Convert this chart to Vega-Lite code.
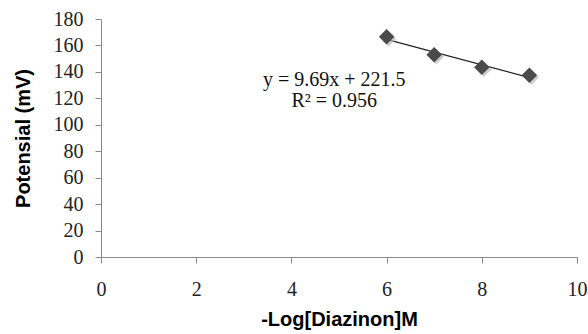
{
  "$schema": "https://vega.github.io/schema/vega-lite/v6.json",
  "width": 476,
  "height": 238,
  "autosize": {"type": "none"},
  "padding": {"left": 101, "top": 19, "right": 11, "bottom": 77},
  "background": "white",
  "config": {"view": {"stroke": null}, "axis": {"labelOverlap": false, "labelBound": false, "labelFlush": false}},
  "datasets": {
    "pts": [
      {"x": 6, "y": 166.5},
      {"x": 7, "y": 153},
      {"x": 8, "y": 143.5},
      {"x": 9, "y": 137.5}
    ],
    "ann": [
      {"x": 4.9, "y": 133.6, "label": "y = 9.69x + 221.5"},
      {"x": 4.9, "y": 118.2, "label": "R² = 0.956"}
    ]
  },
  "encoding": {
    "x": {"field": "x", "type": "quantitative", "scale": {"domain": [0, 10], "nice": false},
      "axis": {"title": "-Log[Diazinon]M", "values": [0, 2, 4, 6, 8, 10], "grid": false, "labelOverlap": false,
        "domainColor": "#888", "tickColor": "#888", "tickSize": 6,
        "labelFont": "Liberation Serif", "labelFontSize": 20, "labelColor": "#222", "labelPadding": 16,
        "titleFont": "Liberation Sans", "titleFontSize": 20, "titleFontWeight": "bold", "titleColor": "#000", "titlePadding": 10}},
    "y": {"field": "y", "type": "quantitative", "scale": {"domain": [0, 180], "nice": false},
      "axis": {"title": "Potensial (mV)", "values": [0, 20, 40, 60, 80, 100, 120, 140, 160, 180], "grid": false, "labelOverlap": false,
        "domainColor": "#888", "tickColor": "#888", "tickSize": 6,
        "labelFont": "Liberation Serif", "labelFontSize": 20, "labelColor": "#222", "labelPadding": 12,
        "titleFont": "Liberation Sans", "titleFontSize": 20, "titleFontWeight": "bold", "titleColor": "#000", "titlePadding": 20}}
  },
  "layer": [
    {
      "data": {"name": "pts"},
      "transform": [{"regression": "y", "on": "x"}],
      "mark": {"type": "line", "color": "#222", "strokeWidth": 1.3}
    },
    {
      "data": {"name": "pts"},
      "mark": {"type": "point", "shape": "diamond", "filled": true, "size": 240, "color": "#bbb", "opacity": 0.7, "xOffset": 2, "yOffset": 2}
    },
    {
      "data": {"name": "pts"},
      "mark": {"type": "point", "shape": "diamond", "filled": true, "size": 240, "color": "#4a4a4a", "opacity": 1}
    },
    {
      "data": {"name": "ann"},
      "mark": {"type": "text", "font": "Liberation Serif", "fontSize": 20, "color": "#111", "align": "center", "baseline": "middle"},
      "encoding": {
        "text": {"field": "label"}
      }
    }
  ]
}
